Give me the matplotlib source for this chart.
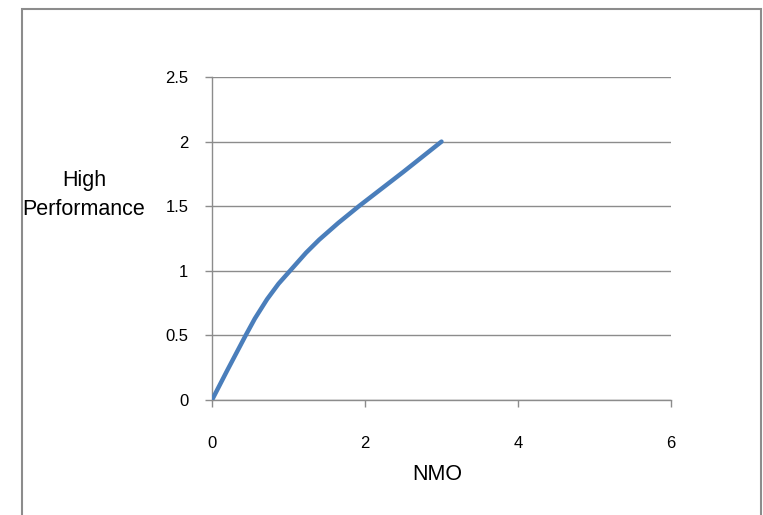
import matplotlib.pyplot as plt
from matplotlib.patches import Rectangle

# values
nmo = [0, 0.2, 0.44, 0.56, 0.72, 0.87, 1.02, 1.23, 1.4, 1.65, 1.92, 2.5, 3]
high_perf = [0, 0.23, 0.5, 0.63, 0.78, 0.9, 1.0, 1.14, 1.24, 1.37, 1.5, 1.765, 2.0]
x_ticks = [0, 2, 4, 6]
y_ticks = [0, 0.5, 1, 1.5, 2, 2.5]

plt.rcParams['font.family'] = ['Liberation Sans', 'DejaVu Sans']

W, H = 763, 515
fig = plt.figure(figsize=(W / 100, H / 100), dpi=100)

# chart border (bottom edge runs off the image)
fig.patches.append(Rectangle((22 / W, -0.05), (761 - 22) / W, 1.05 - 9 / H,
                             transform=fig.transFigure, fill=False,
                             edgecolor='#8c8c8c', linewidth=1.5))

left, right, top, bottom = 212, 671, 77, 400
ax = fig.add_axes([left / W, 1 - bottom / H, (right - left) / W, (bottom - top) / H])

ax.plot(nmo, high_perf, color='#4a7ebb', linewidth=3.2, solid_capstyle='round',
        solid_joinstyle='round', zorder=3)

ax.set_xlim(0, 6)
ax.set_ylim(0, 2.5)
ax.set_xticks(x_ticks)
ax.set_yticks(y_ticks)
ax.set_xticklabels([str(v) for v in x_ticks])
ax.set_yticklabels(['0', '0.5', '1', '1.5', '2', '2.5'])

ax.grid(axis='y', color='#8c8c8c', linewidth=1.0)
ax.set_axisbelow(True)
for side in ['top', 'right']:
    ax.spines[side].set_visible(False)
for side in ['left', 'bottom']:
    ax.spines[side].set_color('#8c8c8c')
    ax.spines[side].set_linewidth(1.0)
ax.tick_params(axis='both', direction='out', length=5, width=1.0,
               color='#8c8c8c', labelsize=12, labelcolor='#000000')
ax.tick_params(axis='y', pad=12)
ax.tick_params(axis='x', pad=21)

fig.text(437 / W, 1 - 475 / H, 'NMO', ha='center', va='center', fontsize=15.5)
fig.text(84 / W, 1 - 195 / H, 'High\nPerformance', ha='center', va='center',
         fontsize=15.5, linespacing=1.45)

fig.savefig('out.png', dpi=100, facecolor='white')
